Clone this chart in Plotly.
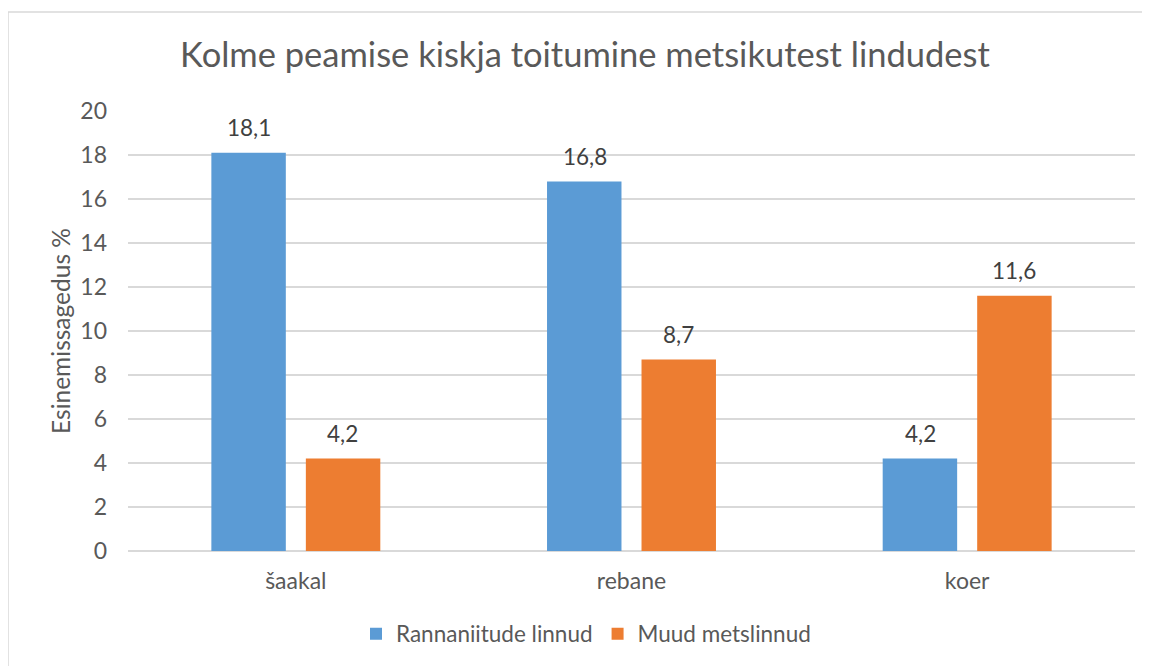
import plotly.graph_objects as go

categories = ["šaakal", "rebane", "koer"]
series_names = ["Rannaniitude linnud", "Muud metslinnud"]
rannaniitude = [18.1, 16.8, 4.2]
muud = [4.2, 8.7, 11.6]
y_ticks = [0, 2, 4, 6, 8, 10, 12, 14, 16, 18, 20]
title_text = "Kolme peamise kiskja toitumine metsikutest lindudest"
y_title = "Esinemissagedus %"

colors = ["#5B9BD5", "#ED7D31"]
FONT = "Lato"
TXT = "#595959"

# page body adds an 8px offset; layout below is in figure coordinates
L, T, R, B = 120, 103, 23, 123
W, H = 1150, 666
PW = W - L - R
PH = H - T - B

def fmt(v):
    return f"{v:.1f}".replace(".", ",")

fig = go.Figure()
for name, vals, col in zip(series_names, [rannaniitude, muud], colors):
    fig.add_trace(go.Bar(x=categories, y=vals, name=name, marker=dict(color=col, line=dict(width=0))))

# data labels
for vals, shift in zip([rannaniitude, muud], [-47, 47]):
    for c, v in zip(categories, vals):
        fig.add_annotation(x=c, y=v, text=fmt(v), showarrow=False, xref="x", yref="y",
                           xshift=shift, yshift=25, yanchor="middle",
                           font=dict(family=FONT, size=22.5, color="#404040"))

# chart border (left/top visible)
fig.add_shape(type="rect", xref="paper", yref="paper",
              x0=(0 - L) / PW, x1=1.2, y0=-0.6, y1=1 + (T - 4) / PH,
              line=dict(color="#D9D9D9", width=1.5), fillcolor="rgba(0,0,0,0)", layer="below")

fig.update_layout(
    width=W, height=H,
    margin=dict(l=L, r=R, t=T, b=B),
    paper_bgcolor="white", plot_bgcolor="white",
    font=dict(family=FONT, size=23, color=TXT),
    title=dict(text=title_text, x=(577 - L) / PW, xref="paper", xanchor="center", y=1 - 47 / H,
               yanchor="middle", font=dict(family=FONT, size=34.5, color=TXT)),
    barmode="group", bargap=0.437, bargroupgap=0.212,
    showlegend=True,
    legend=dict(orientation="h", x=(578 - L) / PW, xanchor="center", y=-83 / PH,
                yanchor="middle",
                font=dict(family=FONT, size=22.5, color=TXT), itemwidth=30, traceorder="normal"),
    xaxis=dict(showgrid=False, showline=False, ticks="", tickfont=dict(family=FONT, size=23, color=TXT),
               ticklabelstandoff=14),
    yaxis=dict(range=[0, 20], tickvals=y_ticks, showgrid=True, gridcolor="#D9D9D9", gridwidth=1.5,
               zeroline=True, zerolinecolor="#D9D9D9", zerolinewidth=1.5, showline=False, ticks="",
               tickfont=dict(family=FONT, size=23, color=TXT), ticklabelstandoff=20,
               title=dict(text=y_title, font=dict(family=FONT, size=24.5, color=TXT), standoff=2)),
)

fig.write_html("out.html")
